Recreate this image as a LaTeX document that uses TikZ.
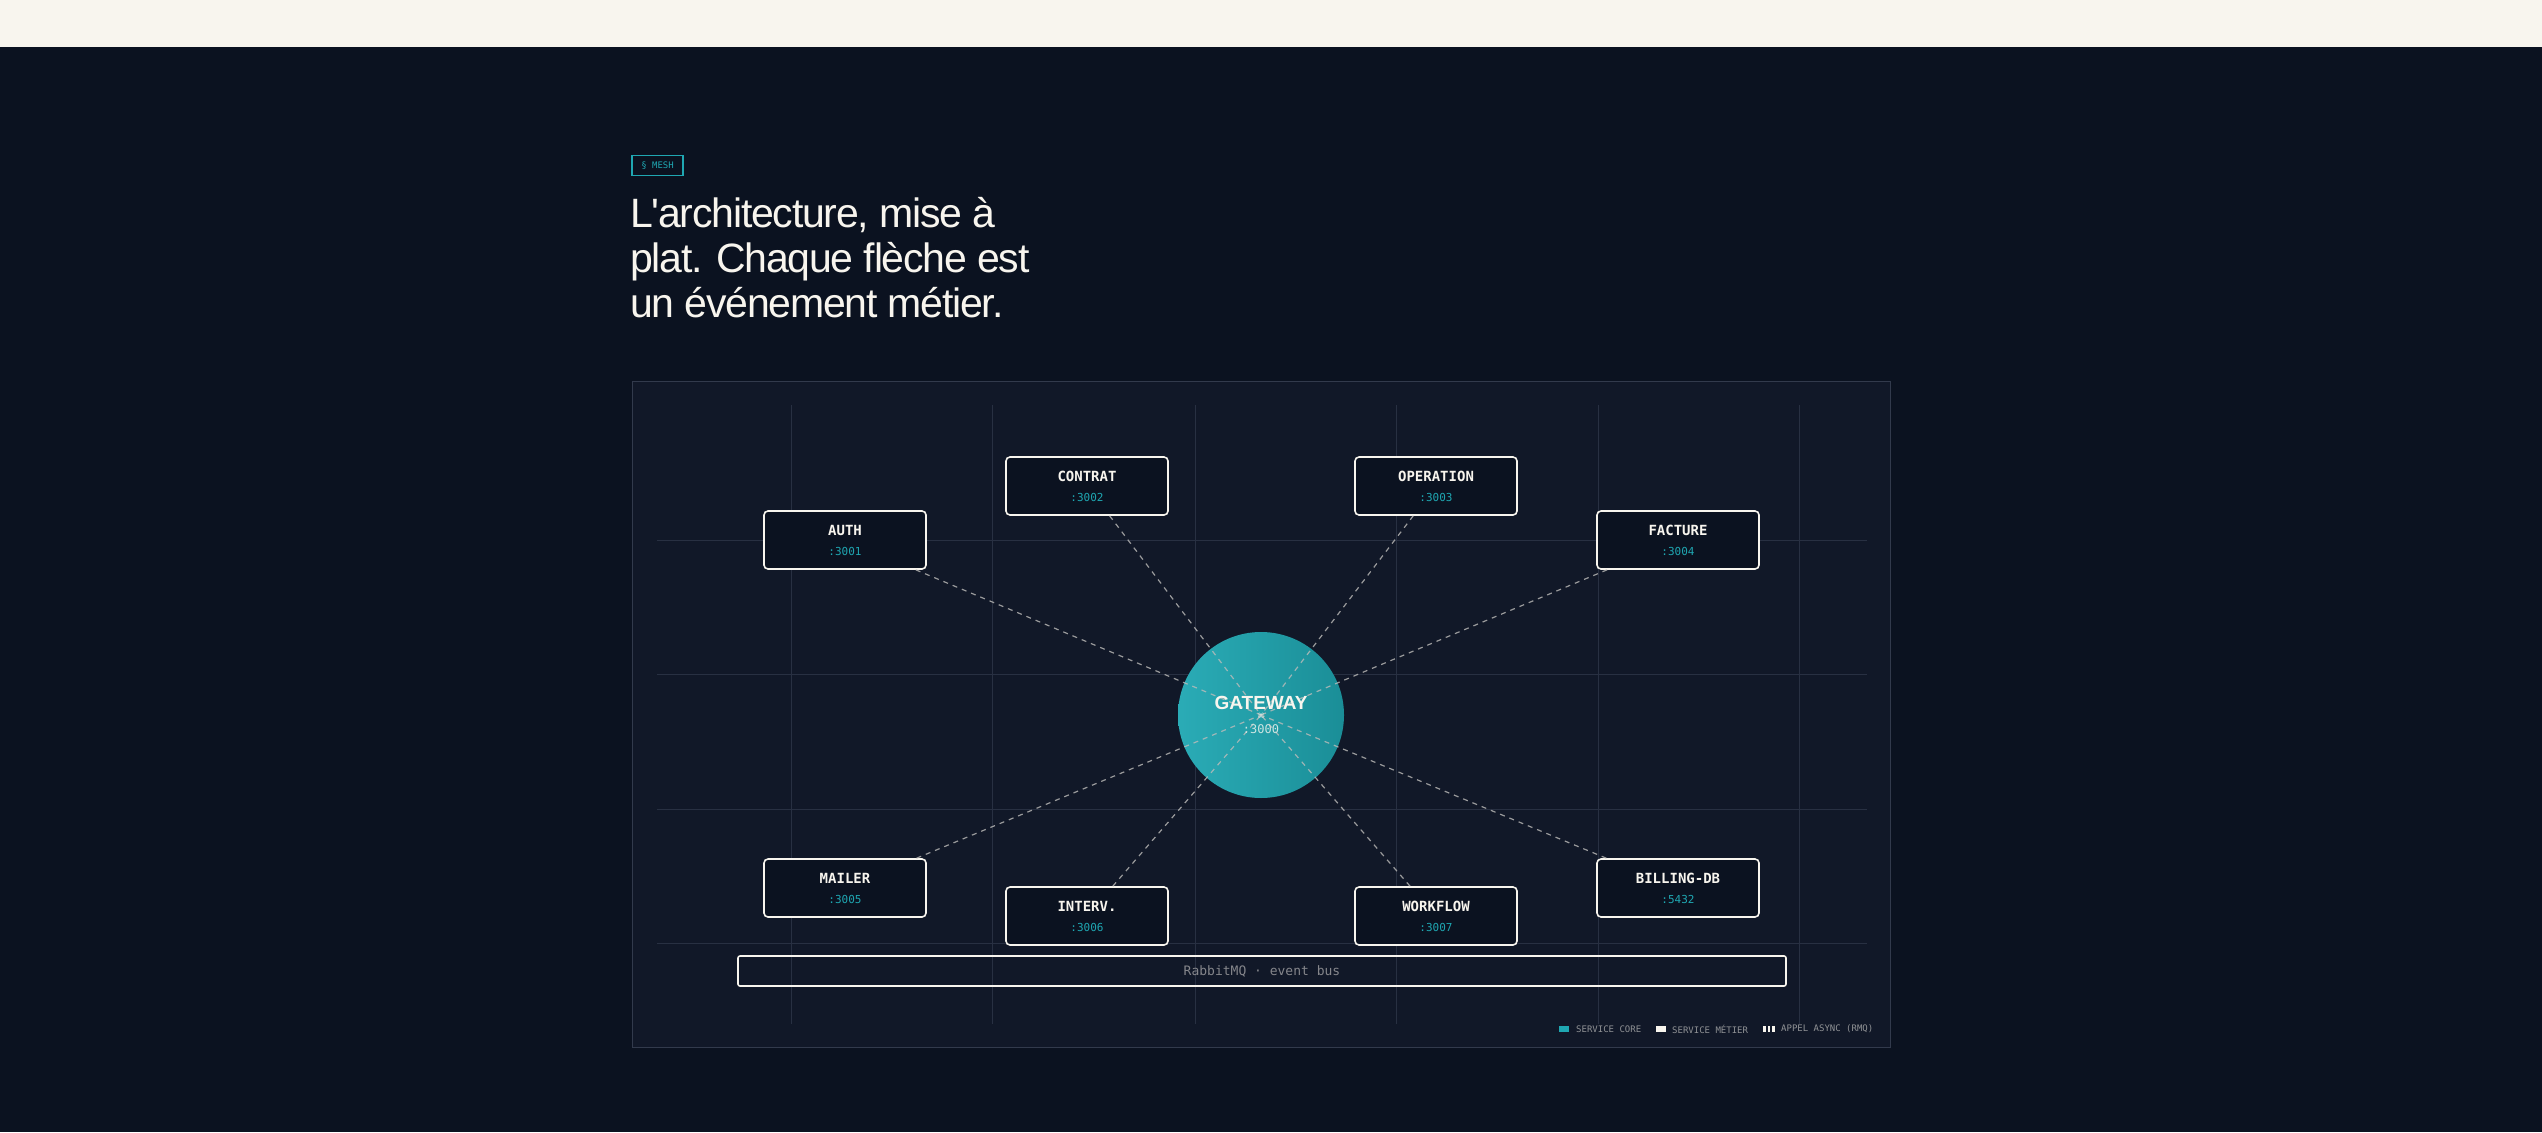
\documentclass[tikz,border=0pt]{standalone}
\usepackage{fontspec}
\setmainfont{Liberation Sans}
\newfontfamily\titlef[LetterSpace=-3]{Liberation Sans}
\newfontfamily\monof{DejaVu Sans Mono}
\newfontfamily\symf{DejaVu Sans}
\definecolor{bgc}{HTML}{0B1220}
\definecolor{panel}{HTML}{111828}
\definecolor{cream}{HTML}{F8F5EE}
\definecolor{teal}{HTML}{1FA7B2}
\definecolor{gridc}{HTML}{283042}
\definecolor{border}{HTML}{323A4C}
\definecolor{boxbg}{HTML}{0B1220}
\tikzset{
  svc/.style={draw=cream, line width=1.6pt, rounded corners=4pt, fill=boxbg, minimum width=162pt, minimum height=58pt, align=center, inner sep=0pt},
  conn/.style={draw=cream!75!bgc, dashed, dash pattern=on 5pt off 5pt, line width=1.2pt, opacity=0.8},
  gridl/.style={draw=gridc, line width=1pt},
  lg/.style={font=\monof\fontsize{9}{10}\selectfont, text=cream!55!panel, anchor=west, inner sep=0pt}
}
\newcommand{\svclabel}[2]{{\monof\bfseries\fontsize{14}{16}\selectfont\color{cream}#1}\\[8pt]{\monof\fontsize{11}{12}\selectfont\color{teal}#2}}
\begin{document}
\begin{tikzpicture}[x=1pt,y=-1pt]
\useasboundingbox (0,0) rectangle (2542,1132);
\fill[bgc] (0,0) rectangle (2542,1132);
\fill[cream] (0,0) rectangle (2542,47);
% tag
\node[draw=teal, line width=1.2pt, minimum width=51pt, minimum height=20pt, inner sep=0pt, text=teal, font=\monof\fontsize{9}{10}\selectfont] (tag) at (657.5,165.5) {§ MESH};
% title
\node[anchor=north west, align=left, text=cream, font=\titlef\fontsize{41}{45}\selectfont, inner sep=0pt] (title) at (630,197) {L'architecture, mise à\\plat. Chaque flèche est\\un événement métier.};
% panel
\fill[panel] (632,381) rectangle (1890,1047);
\draw[border, line width=1pt] (632,381) rectangle (1890,1047);
\foreach \x in {791,992,1195,1396,1598,1799} \draw[gridl] (\x,405) -- (\x,1024);
\foreach \y in {540,674,809,943} \draw[gridl] (657,\y) -- (1867,\y);
% gateway
\node[circle, minimum size=166pt, inner sep=0pt, left color=teal!95!white, right color=teal!85!black, draw=none] (gw) at (1261,715) {};
% nodes
\node[svc] (auth) at (845,540) {\svclabel{AUTH}{:3001}};
\node[svc] (contrat) at (1087,486) {\svclabel{CONTRAT}{:3002}};
\node[svc] (oper) at (1436,486) {\svclabel{OPERATION}{:3003}};
\node[svc] (fact) at (1678,540) {\svclabel{FACTURE}{:3004}};
\node[svc] (mailer) at (845,888) {\svclabel{MAILER}{:3005}};
\node[svc] (interv) at (1087,916) {\svclabel{INTERV.}{:3006}};
\node[svc] (work) at (1436,916) {\svclabel{WORKFLOW}{:3007}};
\node[svc] (bill) at (1678,888) {\svclabel{BILLING-DB}{:5432}};
% connectors
\foreach \n in {auth,contrat,oper,fact,mailer,interv,work,bill}
  \draw[conn] (\n) -- (gw.center);
\node[text=cream, font=\bfseries\fontsize{19}{20}\selectfont, inner sep=0pt] (gwt) at (1261,703) {GATEWAY};
\node[text=cream!85!teal, font=\symf\fontsize{7}{8}\selectfont, inner sep=0pt] (gws) at (1261,716) {⌘};
\node[text=cream!80!teal, font=\monof\fontsize{12}{13}\selectfont, inner sep=0pt] (gwp) at (1261,729) {:3000};
% bus
\node[draw=cream, line width=1.6pt, rounded corners=2pt, minimum width=1048pt, minimum height=30pt, inner sep=0pt, text=cream!50!panel, font=\monof\fontsize{13}{14}\selectfont] (bus) at (1262,971) {RabbitMQ · event bus};
% legend
\fill[teal] (1559,1026) rectangle (1569,1032);
\node[lg] (l1) at (1576,1029) {SERVICE CORE};
\fill[cream] (1656,1026) rectangle (1666,1032);
\node[lg] (l2) at (1672,1029) {SERVICE MÉTIER};
\fill[cream] (1763,1026) rectangle (1765.5,1032);
\fill[cream] (1767.5,1026) rectangle (1770,1032);
\fill[cream] (1772,1026) rectangle (1774.5,1032);
\node[lg] (l3) at (1781,1029) {APPEL ASYNC (RMQ)};
\end{tikzpicture}
\end{document}
